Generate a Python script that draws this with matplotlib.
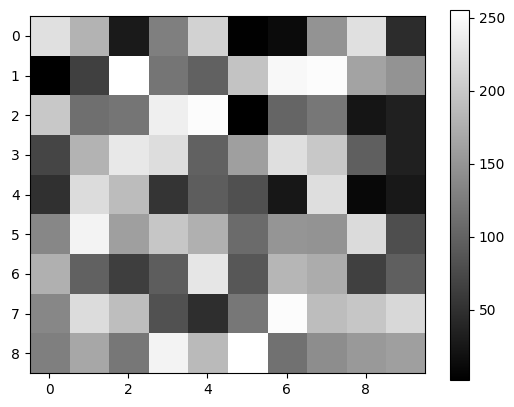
import numpy as np
import matplotlib
matplotlib.use("Agg")
import matplotlib.pyplot as plt

row0 = [224, 180, 28, 128, 210, 3, 13, 148, 224, 47]
row1 = [2, 66, 255, 118, 98, 196, 248, 252, 164, 149]
row2 = [200, 112, 118, 239, 252, 2, 102, 120, 23, 35]
row3 = [71, 180, 232, 221, 98, 160, 223, 200, 96, 34]
row4 = [50, 220, 188, 54, 94, 82, 25, 222, 10, 26]
row5 = [136, 244, 160, 198, 176, 108, 150, 148, 219, 80]
row6 = [176, 98, 64, 94, 230, 88, 182, 172, 66, 96]
row7 = [136, 220, 190, 84, 48, 120, 252, 189, 198, 216]
row8 = [128, 168, 120, 244, 186, 255, 114, 142, 154, 160]

data = np.array([row0, row1, row2, row3, row4, row5, row6, row7, row8])

fig = plt.figure(figsize=(5.14, 4.07), dpi=100)
ax = fig.add_axes([0.0574, 0.0835, 0.7695, 0.877])
cax = fig.add_axes([0.8755, 0.0663, 0.037, 0.908])

im = ax.imshow(data, cmap='gray', aspect='auto')
fig.colorbar(im, cax=cax)

fig.savefig("out.png", dpi=100)
